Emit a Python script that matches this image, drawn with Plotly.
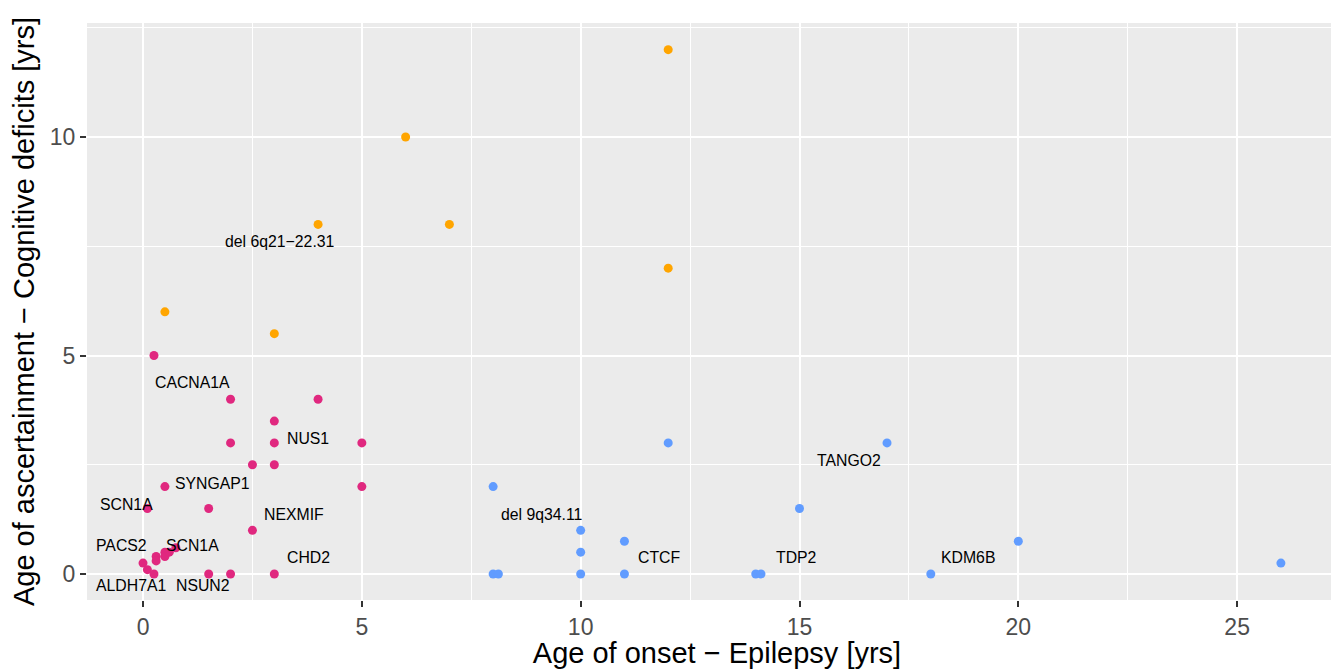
import plotly.graph_objects as go

# ---- data ----
orange_x = [12, 6, 4, 7, 12, 0.5, 3]
orange_y = [12, 10, 8, 8, 7, 6, 5.5]

magenta_x = [0.25, 2, 4, 3, 2, 3, 5, 2.5, 3, 0.5, 5, 0.1, 1.5, 2.5, 3, 1.5, 2,
             0, 0.1, 0.25, 0.3, 0.3, 0.5, 0.5, 0.6, 0.75]
magenta_y = [5, 4, 4, 3.5, 3, 3, 3, 2.5, 2.5, 2, 2, 1.5, 1.5, 1, 0, 0, 0,
             0.25, 0.1, 0, 0.4, 0.3, 0.5, 0.4, 0.5, 0.6]

blue_x = [12, 17, 8, 15, 10, 11, 10, 20, 26, 8, 8.12, 10, 11, 14, 14.12, 18]
blue_y = [3, 3, 2, 1.5, 1, 0.75, 0.5, 0.75, 0.25, 0, 0, 0, 0, 0, 0, 0]

label_text = ["del 6q21\u221222.31", "CACNA1A", "NUS1", "SYNGAP1", "SCN1A", "NEXMIF",
              "PACS2", "SCN1A", "CHD2", "ALDH7A1", "NSUN2", "del 9q34.11",
              "CTCF", "TDP2", "TANGO2", "KDM6B"]
label_x = [3.12, 1.14, 3.77, 1.58, -0.37, 3.45, -0.5, 1.14, 3.77, -0.27, 1.38, 9.11,
           11.79, 14.91, 16.13, 18.86]
label_y = [7.6, 4.38, 3.11, 2.08, 1.6, 1.37, 0.66, 0.66, 0.37, -0.27, -0.27, 1.37,
           0.37, 0.37, 2.59, 0.37]

x_ticks = [0, 5, 10, 15, 20, 25]
y_ticks = [0, 5, 10]

FONT = "Liberation Sans, Arial, sans-serif"

fig = go.Figure()
for xs, ys, col in [(orange_x, orange_y, "#FFA500"),
                    (magenta_x, magenta_y, "#E0287F"),
                    (blue_x, blue_y, "#619CFF")]:
    fig.add_trace(go.Scatter(x=xs, y=ys, mode="markers",
                             marker=dict(color=col, size=9, line=dict(width=0)),
                             showlegend=False, hoverinfo="skip"))

for t, x, y in zip(label_text, label_x, label_y):
    fig.add_annotation(x=x, y=y, text=t, showarrow=False, xanchor="center",
                       yanchor="middle", font=dict(family=FONT, size=15.8, color="black"))

axis_common = dict(
    showgrid=True, gridcolor="white", gridwidth=2,
    zeroline=False, showline=False,
    ticks="outside", ticklen=6, tickwidth=2, tickcolor="#333333",
    tickfont=dict(family=FONT, size=23, color="#4D4D4D"),
    minor=dict(showgrid=True, gridcolor="white", gridwidth=1, dtick=2.5, ticks=""),
)

fig.update_xaxes(range=[-1.28, 27.51], tickvals=x_ticks, **axis_common,
                 title=dict(text="Age of onset \u2212 Epilepsy [yrs]", standoff=6,
                            font=dict(family=FONT, size=29, color="black")))
fig.update_yaxes(range=[-0.595, 12.61], tickvals=y_ticks, **axis_common,
                 title=dict(text="Age of ascertainment \u2212 Cognitive deficits [yrs]", standoff=6,
                            font=dict(family=FONT, size=29, color="black")))

fig.update_layout(width=1339, height=661, margin=dict(l=79, r=0, t=15, b=69, autoexpand=False),
                  plot_bgcolor="#EBEBEB", paper_bgcolor="white",
                  font=dict(family=FONT))

fig.write_html("out.html")
